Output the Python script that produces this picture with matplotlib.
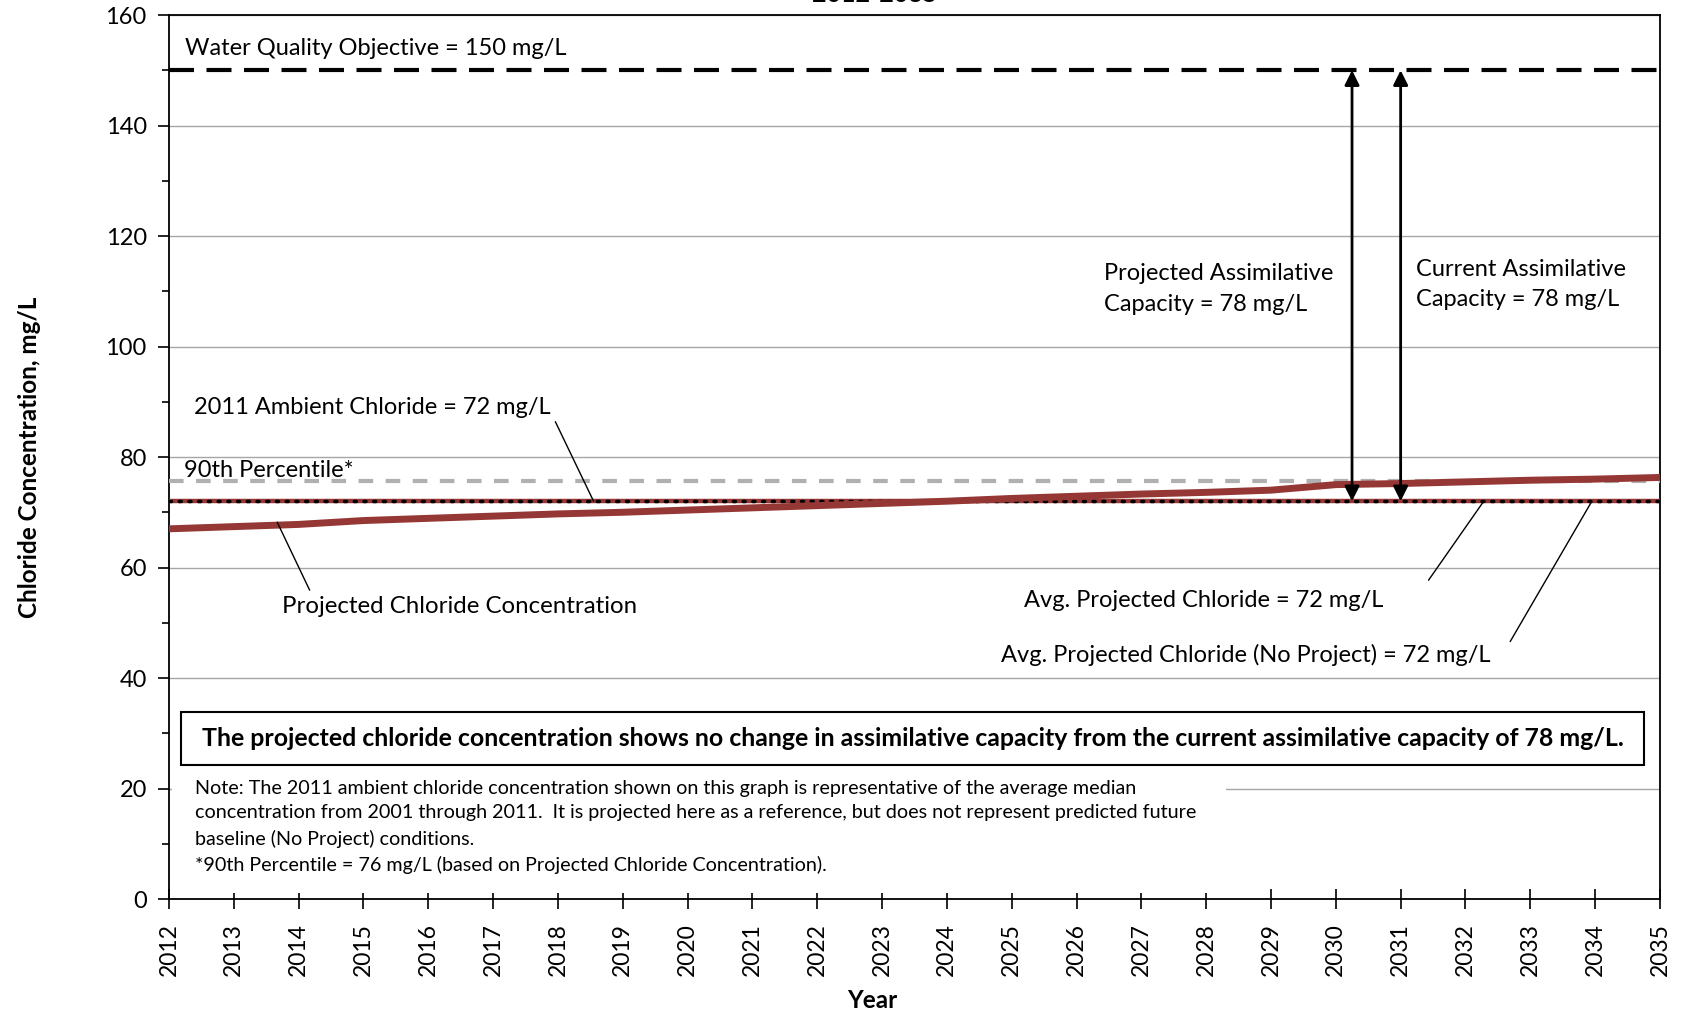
import numpy as np
import matplotlib.pyplot as plt
from matplotlib.patches import Rectangle

plt.rcParams['font.family'] = ['Lato', 'DejaVu Sans']

# ── data ─────────────────────────────────────────────
years = list(range(2012, 2036))
projected = [67.0, 67.4, 67.8, 68.5, 68.9, 69.3, 69.7, 70.0, 70.4, 70.8, 71.2, 71.6,
             72.0, 72.5, 72.9, 73.3, 73.6, 74.0, 75.0, 75.2, 75.5, 75.8, 76.0, 76.3]
wqo = 150
ambient_2011 = 72
avg_projected = 72
avg_no_project = 72
pct90 = 75.6
arrow_x = [2030.25, 2031.0]

RED = "#953735"

fig = plt.figure(figsize=(16.83, 10.14), dpi=100)
ax = fig.add_axes([0.1004, 0.1134, 0.8859, 0.8718])

ax.set_xlim(2012, 2035)
ax.set_ylim(0, 160)
ax.set_yticks(range(0, 161, 20))
ax.set_yticks(range(0, 161, 10), minor=True)
ax.set_xticks(years)
ax.set_xticklabels([str(y) for y in years], rotation=90)
ax.tick_params(axis='x', which='major', direction='inout', length=15, width=1.2,
               labelsize=16.5, pad=10)
ax.tick_params(axis='y', which='major', direction='out', length=8, width=1.2,
               labelsize=17, pad=8)
ax.tick_params(axis='y', which='minor', direction='out', length=5, width=1.2)
ax.yaxis.grid(True, color="#a6a6a6", linewidth=1)
ax.set_axisbelow(True)
for s in ax.spines.values():
    s.set_linewidth(1.3)

ax.set_ylabel("Chloride Concentration, mg/L", fontsize=17.5, fontweight='bold')
ax.yaxis.set_label_coords(-0.086, 0.5)
ax.set_xlabel("Year", fontsize=17.5, fontweight='bold')
ax.xaxis.set_label_coords(0.472, -0.102)

fig.text(0.52, 0.994, "2012-2035", fontsize=18, fontweight='bold', ha='center', va='bottom')

# white panel behind the note (hides part of the 20 gridline)
ax.add_patch(Rectangle((2012.05, 1), 16.25, 21, facecolor='white', edgecolor='none', zorder=1.5))

# reference lines
ax.plot([2012, 2035], [wqo, wqo], color='black', lw=3, ls=(0, (6, 3)), zorder=3)
ax.plot([2012, 2035], [pct90, pct90], color='#b0b0b0', lw=3, ls=(0, (3.5, 3)), zorder=3)
ax.plot([2012, 2035], [avg_projected, avg_projected], color=RED, lw=3.2, zorder=3)
ax.plot([2012, 2035], [avg_no_project, avg_no_project], color='black', lw=2.5,
        ls=(0, (0.6, 2.2)), dash_capstyle='round', zorder=4)
ax.plot(years, projected, color=RED, lw=5, zorder=5, solid_capstyle='butt')

# assimilative capacity arrows
for x in arrow_x:
    ax.annotate("", xy=(x, wqo), xytext=(x, ambient_2011),
                arrowprops=dict(arrowstyle="<|-|>", lw=2, color='black',
                                mutation_scale=22, shrinkA=0, shrinkB=0), zorder=6)

fs = 17
ax.text(2012.25, 154, "Water Quality Objective = 150 mg/L", fontsize=fs, va='center')
ax.text(2026.43, 110.4, "Projected Assimilative\nCapacity = 78 mg/L", fontsize=fs,
        va='center', linespacing=1.55)
ax.text(2031.24, 111.2, "Current Assimilative\nCapacity = 78 mg/L", fontsize=fs,
        va='center', linespacing=1.55)
ax.text(2012.23, 77.6, "90th Percentile*", fontsize=fs, va='center')
ax.text(2012.38, 88.9, "2011 Ambient Chloride = 72 mg/L", fontsize=fs, va='center')
ax.text(2013.74, 53.0, "Projected Chloride Concentration", fontsize=17.3, va='center')
ax.text(2025.19, 54.0, "Avg. Projected Chloride = 72 mg/L", fontsize=fs, va='center')
ax.text(2024.84, 44.1, "Avg. Projected Chloride (No Project) = 72 mg/L", fontsize=fs,
        va='center')

# leader lines
leaders = [((2017.96, 86.4), (2018.55, 72.0)),
           ((2014.17, 55.9), (2013.67, 68.2)),
           ((2031.43, 57.7), (2032.27, 71.8)),
           ((2032.69, 46.6), (2033.94, 71.8))]
for start, end in leaders:
    ax.annotate("", xy=end, xytext=start,
                arrowprops=dict(arrowstyle='-', color='black', lw=1, shrinkA=0, shrinkB=0),
                zorder=6)

ax.add_patch(Rectangle((2012.18, 24.3), 22.57, 9.5, facecolor='white', edgecolor='black',
                       lw=1.5, zorder=6))
ax.text(2023.47, 29.0,
        "The projected chloride concentration shows no change in assimilative capacity "
        "from the current assimilative capacity of 78 mg/L.",
        fontsize=17.9, fontweight='bold', ha='center', va='center', zorder=7)

note = ("Note: The 2011 ambient chloride concentration shown on this graph is representative of the average median\n"
        "concentration from 2001 through 2011.  It is projected here as a reference, but does not represent predicted future\n"
        "baseline (No Project) conditions.\n"
        "*90th Percentile = 76 mg/L (based on Projected Chloride Concentration).")
ax.text(2012.4, 21.6, note, fontsize=14.2, va='top', linespacing=1.55, zorder=7)

fig.savefig("out.png", dpi=100, facecolor='white')
